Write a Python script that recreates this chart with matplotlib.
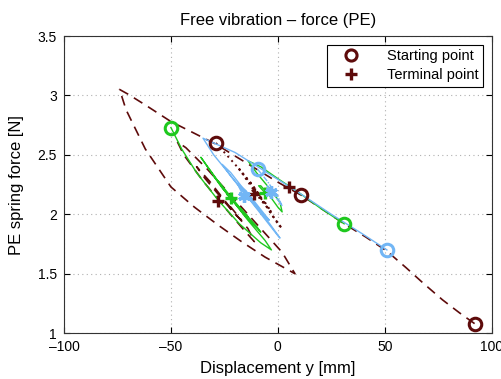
import matplotlib
matplotlib.use("Agg")
import matplotlib.pyplot as plt
from matplotlib.lines import Line2D

plt.rcParams["font.family"] = ["Liberation Sans", "DejaVu Sans"]

DARK = "#5e0b0b"
GREEN = "#1ec81e"
BLUE = "#72b6f5"

# Series 1: dark, dashed (large loop)
x1 = [92, 85, 77, 68, 60, 51, 41, 31, 21, 11, 0, -10, -20, -29, -40, -50, -62, -70, -74,
      -71, -62, -50, -39, -28, -17, -6, 3, 8,
      2, -8, -20, -33, -43, -47,
      -44, -35, -25, -15, -11,
      -14, -22, -32, -38,
      -34, -27, -20, -17,
      -22, -28]
y1 = [1.08, 1.17, 1.28, 1.42, 1.55, 1.69, 1.81, 1.92, 2.04, 2.16, 2.27, 2.38, 2.49, 2.59, 2.69, 2.78, 2.92, 3.01, 3.05,
      2.88, 2.55, 2.23, 2.06, 1.91, 1.77, 1.64, 1.55, 1.50,
      1.68, 1.88, 2.12, 2.38, 2.56, 2.61,
      2.50, 2.28, 2.06, 1.85, 1.77,
      1.88, 2.05, 2.28, 2.40,
      2.30, 2.15, 2.00, 1.95,
      2.06, 2.11]

# Series 2: dark, dotted
x2 = [-29, -20, -10, 0, 2, -3, -12, -18, -15, -8, -3, -6, -12, -11]
y2 = [2.60, 2.42, 2.20, 1.92, 1.88, 2.00, 2.25, 2.38, 2.30, 2.12, 2.02, 2.10, 2.20, 2.17]

# Series 3: dark, short
x3 = [11, 8, 5]
y3 = [2.16, 2.20, 2.23]

# Series 4: green
x4 = [-50, -45, -38, -28, -18, -8, -3, -6, -14, -24, -32, -36, -33, -25, -15, -8, -10, -18, -27, -30, -26, -18, -14, -18, -24, -22]
y4 = [2.73, 2.55, 2.35, 2.12, 1.92, 1.76, 1.70, 1.78, 1.95, 2.18, 2.38, 2.48, 2.40, 2.20, 1.98, 1.85, 1.90, 2.06, 2.26, 2.32, 2.22, 2.05, 1.98, 2.06, 2.17, 2.14]

# Series 5: green
x5 = [31, 20, 10, 0, -8, -14, -10, -4, 1, 2, 0, -4, -8, -9, -6]
y5 = [1.92, 2.05, 2.18, 2.30, 2.40, 2.45, 2.35, 2.22, 2.10, 2.02, 2.06, 2.16, 2.24, 2.24, 2.18]

# Series 6: light blue
x6 = [51, 40, 25, 10, -5, -20, -35, -30, -20, -10, 0, 1, -3, -12, -22, -26, -22, -13, -6, -4, -8, -15, -19, -16]
y6 = [1.70, 1.83, 2.00, 2.18, 2.35, 2.52, 2.64, 2.50, 2.28, 2.05, 1.82, 1.80, 1.90, 2.12, 2.35, 2.42, 2.32, 2.12, 1.98, 1.95, 2.04, 2.20, 2.26, 2.15]

# Series 7: light blue, small
x7 = [-9.5, -5, 0, 2, 0, -4, -5, -3]
y7 = [2.38, 2.28, 2.15, 2.07, 2.12, 2.22, 2.24, 2.19]

x_ticks = [-100, -50, 0, 50, 100]
x_tick_labels = ["\u2013100", "\u201350", "0", "50", "100"]
y_ticks = [1, 1.5, 2, 2.5, 3, 3.5]
y_tick_labels = ["1", "1.5", "2", "2.5", "3", "3.5"]

fig = plt.figure(figsize=(5.02, 3.79), dpi=100)
ax = fig.add_axes([0.1275, 0.121, 0.852, 0.784])

ax.plot(x1, y1, color=DARK, lw=1.2, ls=(0, (6, 4)))
ax.plot(x2, y2, color=DARK, lw=1.4, ls=(0, (1, 2)))
ax.plot(x3, y3, color=DARK, lw=1.0)
ax.plot(x4, y4, color=GREEN, lw=1.0)
ax.plot(x5, y5, color=GREEN, lw=1.0)
ax.plot(x6, y6, color=BLUE, lw=1.0)
ax.plot(x7, y7, color=BLUE, lw=1.0, ls=(0, (4, 1, 1, 1)))

series = [(x1, y1, DARK, "+"), (x2, y2, DARK, "+"), (x3, y3, DARK, "+"),
          (x4, y4, GREEN, "+"), (x5, y5, GREEN, "+"),
          (x6, y6, BLUE, (6, 2, 0)), (x7, y7, BLUE, (6, 2, 0))]
for xs, ys, c, term in series:
    ax.plot(xs[0], ys[0], marker="o", ms=9, mfc="none", mec=c, mew=2.2, ls="none")
    ax.plot(xs[-1], ys[-1], marker=term, ms=9, color=c, mew=2.4, ls="none")

ax.set_xlim(-100, 100)
ax.set_ylim(1, 3.5)
ax.set_xticks(x_ticks)
ax.set_xticklabels(x_tick_labels)
ax.set_yticks(y_ticks)
ax.set_yticklabels(y_tick_labels)
ax.tick_params(direction="in", top=True, right=True, labelsize=10, length=4, pad=5)
ax.grid(True, color="#b0b0b0", ls=(0, (1, 3)), lw=0.8)
for s in ax.spines.values():
    s.set_linewidth(0.8)
    s.set_color("#333333")

ax.set_title("Free vibration \u2013 force (PE)", fontsize=12, pad=8)
ax.set_xlabel("Displacement y [mm]", fontsize=12, labelpad=5)
ax.set_ylabel("PE spring force [N]", fontsize=12, labelpad=10)

handles = [Line2D([], [], marker="o", ms=8, mfc="none", mec=DARK, mew=2.2, ls="none"),
           Line2D([], [], marker="+", ms=8, color=DARK, mew=2.4, ls="none")]
leg = ax.legend(handles, ["Starting point", "Terminal point"], loc="upper right",
                fontsize=10.5, fancybox=False, edgecolor="black", framealpha=1,
                borderaxespad=0.6, handletextpad=1.2, handlelength=2.6,
                borderpad=0.3, labelspacing=0.35)
leg.get_frame().set_linewidth(0.8)

fig.savefig("out.png", dpi=100)
